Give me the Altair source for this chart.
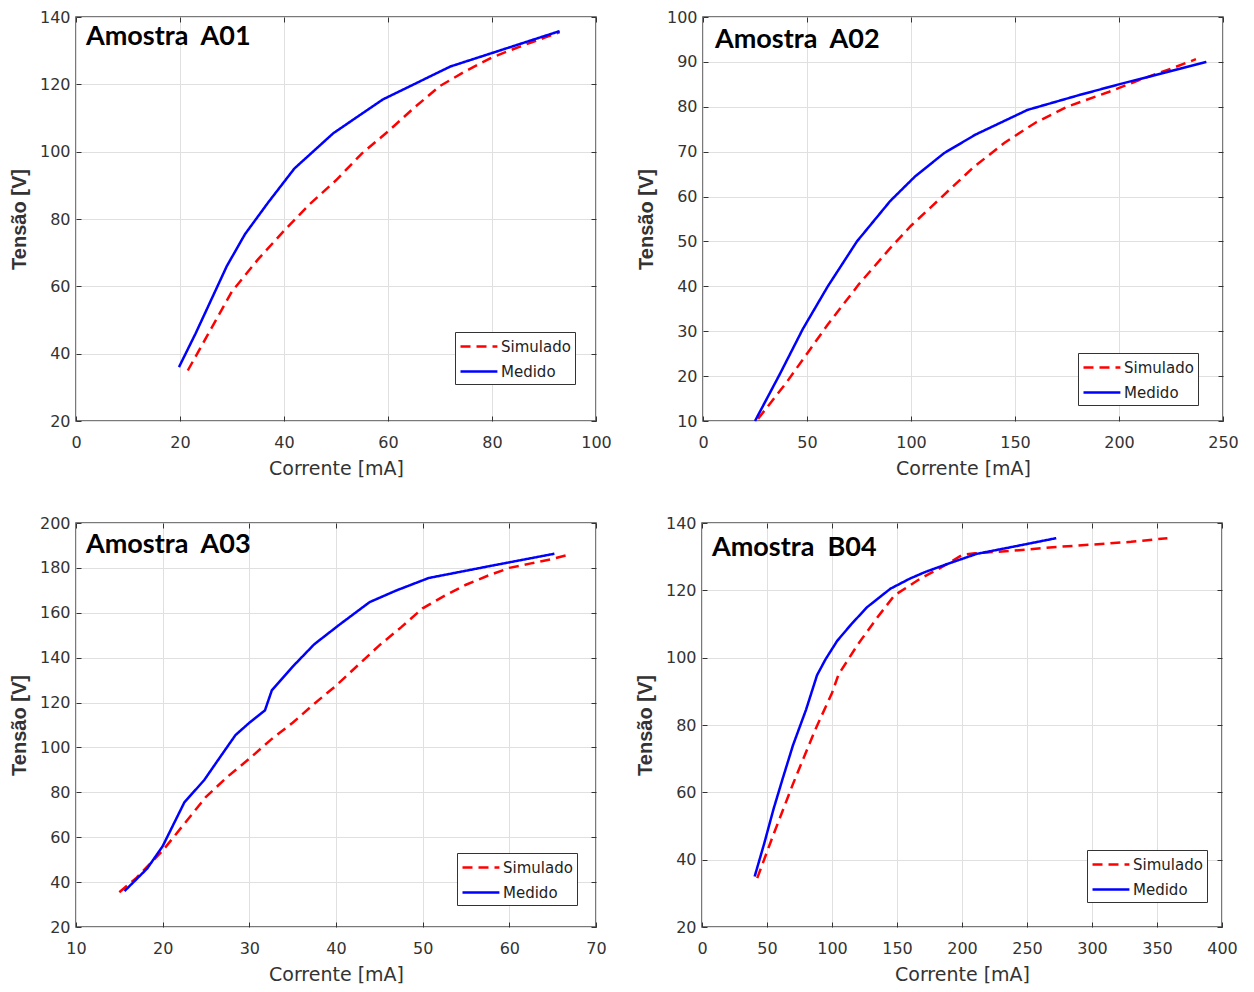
import altair as alt
import pandas as pd

# ---------------- data ----------------
series_names = ["Simulado", "Medido"]

a01_sim_x = [21.5, 25, 30, 35, 40, 45, 50, 55, 60, 65, 70, 75, 80, 85, 90, 93]
a01_sim_y = [35, 44.7, 58.5, 68, 76.5, 84.5, 91.5, 99.5, 106, 113, 119.5, 124, 128, 131, 133.8, 135.5]
a01_med_x = [19.8, 23, 26, 29, 32.5, 37, 42, 49.5, 59, 72, 93]
a01_med_y = [36, 46, 56, 66, 75.5, 85, 95, 105.5, 115.5, 125.3, 135.8]

a02_sim_x = [26.5, 40, 50, 60, 75, 90, 100, 115, 130, 145, 160, 175, 195, 210, 225, 237]
a02_sim_y = [10.5, 18.5, 25, 31.5, 40.5, 48.5, 53.5, 60, 66.5, 72, 76.5, 80, 83.3, 86, 88.5, 90.6]
a02_med_x = [25, 37, 48, 60, 74, 90, 102, 116, 131, 156, 180, 200, 242]
a02_med_y = [10, 20.5, 30.5, 40, 50, 59, 64.5, 69.7, 73.8, 79.3, 82.5, 85, 90]

a03_sim_x = [15, 17, 20, 22.5, 25, 27.5, 30, 32.5, 35, 37.5, 40, 42.5, 45, 47.5, 50, 52.5, 55, 57.5, 60, 62.5, 65, 67]
a03_sim_y = [35.5, 42, 54, 66, 78, 87, 95, 103.5, 111, 119.5, 127.5, 136.5, 145.5, 153.5, 162, 167.5, 172.5, 176.5, 180, 182, 184, 186]
a03_med_x = [15.6, 18.2, 20, 22.5, 24.8, 26.5, 28.4, 30, 31.8, 32.6, 35, 37.5, 40.5, 43.9, 47, 50.7, 58, 65.2]
a03_med_y = [36, 46, 56, 75.5, 85.5, 95, 105.5, 111, 116.5, 125.5, 136, 146, 155, 164.8, 170, 175.5, 181, 186.3]

b04_sim_x = [42.5, 55, 70, 87, 100, 105, 120, 135, 148, 168, 185, 200, 210, 240, 270, 300, 330, 358]
b04_sim_y = [34.5, 47.5, 62.5, 78.5, 89.5, 95, 104, 112, 118.5, 123.5, 127, 130.5, 131, 131.8, 132.8, 133.6, 134.4, 135.5]
b04_med_x = [40.5, 48, 55, 62, 70, 80, 88.5, 95, 104, 115, 127, 145, 160, 172, 190, 211, 240, 272.5]
b04_med_y = [35, 45, 55, 64, 74, 84.5, 94.8, 99.5, 105, 110, 115, 120.5, 123.5, 125.5, 128, 130.8, 133, 135.5]

titles = ["Amostra\u00a0 A01", "Amostra\u00a0 A02", "Amostra\u00a0 A03", "Amostra\u00a0 B04"]
x_ticks = [[0, 20, 40, 60, 80, 100], [0, 50, 100, 150, 200, 250],
           [10, 20, 30, 40, 50, 60, 70], [0, 50, 100, 150, 200, 250, 300, 350, 400]]
y_ticks = [[20, 40, 60, 80, 100, 120, 140], [10, 20, 30, 40, 50, 60, 70, 80, 90, 100],
           [20, 40, 60, 80, 100, 120, 140, 160, 180, 200], [20, 40, 60, 80, 100, 120, 140]]

W, H = 520, 404
FONT = "DejaVu Sans"
TICK_COLOR = "#333333"
LEGEND_SYMBOL = "M-1,0H3.1"   # long stroke sample, nominal entry height stays small


def panel(title, sx, sy, mx, my, xt, yt, leg_xy, title_xy):
    df = pd.DataFrame({
        "x": sx + mx,
        "y": sy + my,
        "serie": [series_names[0]] * len(sx) + [series_names[1]] * len(mx),
    })
    xscale = alt.Scale(domain=[xt[0], xt[-1]], nice=False, zero=False)
    yscale = alt.Scale(domain=[yt[0], yt[-1]], nice=False, zero=False)
    legend = alt.Legend(
        orient="none", legendX=leg_xy[0], legendY=leg_xy[1], title=None,
        symbolType=LEGEND_SYMBOL, symbolStrokeWidth=2.5, symbolSize=324,
        fillColor="white", strokeColor="#333333", padding=4,
        labelFont=FONT, labelFontSize=15, labelColor="#222222",
        rowPadding=6, labelOffset=21,
    )
    lines = alt.Chart(df).mark_line(strokeWidth=2.5).encode(
        x=alt.X("x:Q", scale=xscale,
                axis=alt.Axis(values=xt, title="Corrente [mA]", offset=-5, ticks=True,
                              tickSize=5, tickColor=TICK_COLOR)),
        y=alt.Y("y:Q", scale=yscale,
                axis=alt.Axis(values=yt, title="Tensão [V]", offset=-5, ticks=True,
                              tickSize=5, tickColor=TICK_COLOR)),
        color=alt.Color("serie:N", scale=alt.Scale(domain=series_names, range=["#ff0000", "#0000ff"]),
                        legend=legend),
        strokeDash=alt.StrokeDash("serie:N", scale=alt.Scale(domain=series_names, range=[[10, 6], [1, 0]]),
                                  legend=legend),
    )
    frame_ticks = alt.Chart(df).mark_point(opacity=0).encode(
        x=alt.X("x:Q", scale=xscale,
                axis=alt.Axis(orient="top", values=xt, labels=False, title=None, grid=False,
                              offset=-5, ticks=True, tickSize=5, tickColor=TICK_COLOR)),
        y=alt.Y("y:Q", scale=yscale,
                axis=alt.Axis(orient="right", values=yt, labels=False, title=None, grid=False,
                              offset=-5, ticks=True, tickSize=5, tickColor=TICK_COLOR)),
    )
    label = alt.Chart(pd.DataFrame({"t": [title]})).mark_text(
        align="left", baseline="middle", font="Lato", fontWeight="bold", fontSize=27, color="black"
    ).encode(x=alt.value(title_xy[0]), y=alt.value(title_xy[1]), text="t:N")
    return alt.layer(lines, frame_ticks, label).resolve_axis(
        x="independent", y="independent"
    ).properties(width=W, height=H)


p1 = panel(titles[0], a01_sim_x, a01_sim_y, a01_med_x, a01_med_y, x_ticks[0], y_ticks[0], (379, 315), (10, 20))
p2 = panel(titles[1], a02_sim_x, a02_sim_y, a02_med_x, a02_med_y, x_ticks[1], y_ticks[1], (375, 336), (12, 23))
p3 = panel(titles[2], a03_sim_x, a03_sim_y, a03_med_x, a03_med_y, x_ticks[2], y_ticks[2], (381, 330), (10, 22))
p4 = panel(titles[3], b04_sim_x, b04_sim_y, b04_med_x, b04_med_y, x_ticks[3], y_ticks[3], (385, 327), (10, 25))

row1 = alt.hconcat(p1, p2, spacing=22).resolve_scale(color="independent", strokeDash="independent")
row2 = alt.hconcat(p3, p4, spacing=27).resolve_scale(color="independent", strokeDash="independent")

chart = alt.vconcat(row1, row2, spacing=35).resolve_scale(
    color="independent", strokeDash="independent"
).properties(
    padding={"left": 0, "top": 0, "right": 0, "bottom": 0}
).configure_view(
    stroke="#4d4d4d", strokeWidth=1.5
).configure_axis(
    grid=True, gridColor="#e0e0e0", gridWidth=1, domain=False,
    labelFont=FONT, labelFontSize=16, labelColor="#333333",
    labelFlush=False, labelOverlap=False,
    titleFont=FONT, titleFontSize=19, titleColor="#333333", titleFontWeight="normal",
).configure_axisY(
    labelPadding=6, titleFont="Liberation Sans", titleFontSize=20, titleFontWeight="bold", titlePadding=10,
).configure_axisX(
    labelPadding=13, titlePadding=9,
)

chart.save("out.html", embed_options={"renderer": "svg", "actions": False})
